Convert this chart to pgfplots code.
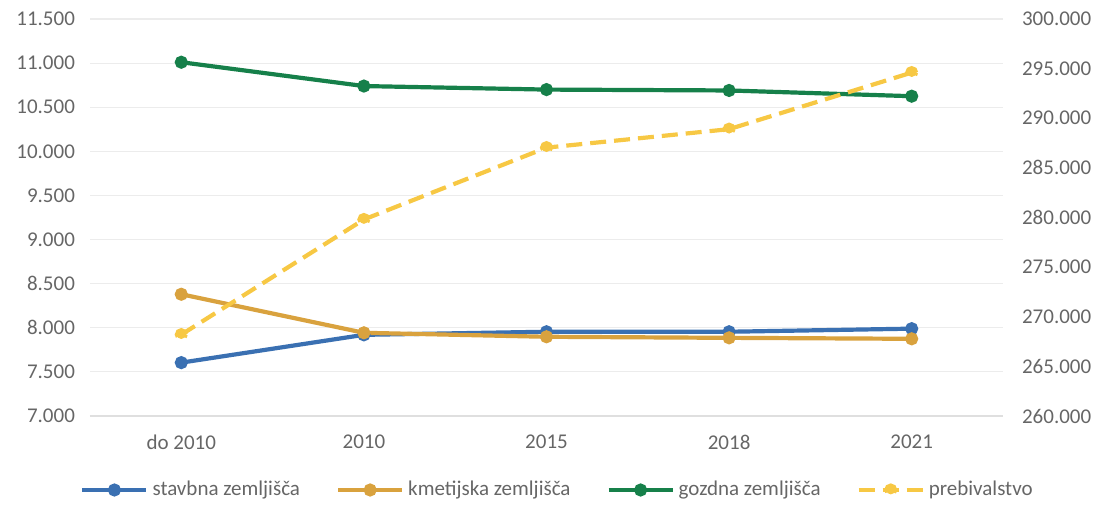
\documentclass[border=0pt]{standalone}
\usepackage{pgfplots}
\pgfplotsset{compat=1.18}
\usepackage{fontspec}
\setmainfont{Carlito}
\definecolor{cblue}{HTML}{3A70B2}
\definecolor{corange}{HTML}{D9A23E}
\definecolor{cgreen}{HTML}{16804A}
\definecolor{cyellow}{HTML}{F7C844}
\definecolor{tickgray}{HTML}{666666}
\begin{document}
\begin{tikzpicture}
\useasboundingbox (-45pt,-44pt) rectangle (507pt,208pt);
\pgfplotsset{
  every axis/.append style={
    at={(0,0)}, anchor=south west, scale only axis,
    width=456.5pt, height=198.5pt,
    xmin=-0.5, xmax=4.5,
    major tick length=0pt,
    scaled y ticks=false,
    /pgf/number format/.cd, fixed, 1000 sep={.}, assume math mode=true,
  },
  lstyle/.style={line width=2.1pt, mark=*, mark size=2.2pt},
}
\begin{axis}[
  axis x line*=bottom, axis y line*=left,
  x axis line style={draw=gray!25, line width=0.8pt},
  y axis line style={draw=none},
  ymin=7000, ymax=11500,
  ytick={7000,7500,...,11500},
  xtick={0,1,2,3,4},
  xticklabels={do 2010,2010,2015,2018,2021},
  ymajorgrids, grid style={draw=gray!15, line width=0.6pt},
  ticklabel style={font=\fontsize{10.5}{12}\selectfont, text=tickgray},
  yticklabel style={xshift=-4pt},
  xticklabel style={yshift=-6pt},
]
\addplot[lstyle, color=cblue] coordinates {(0,7605) (1,7920) (2,7955) (3,7955) (4,7990)};
\addplot[lstyle, color=corange] coordinates {(0,8380) (1,7943) (2,7898) (3,7886) (4,7875)};
\addplot[lstyle, color=cgreen] coordinates {(0,11010) (1,10740) (2,10700) (3,10690) (4,10625)};
\end{axis}
\begin{axis}[
  axis x line=none, axis y line*=right,
  y axis line style={draw=none},
  ymin=260000, ymax=300000,
  ytick={260000,265000,...,300000},
  xtick=\empty,
  ticklabel style={font=\fontsize{10.5}{12}\selectfont, text=tickgray},
  yticklabel style={xshift=6pt},
  legend columns=4,
  legend style={at={(0.5,0)}, anchor=center, yshift=-37pt, xshift=6pt,
    draw=none, fill=none, font=\fontsize{10.5}{12}\selectfont, text=tickgray,
    /tikz/every even column/.append style={column sep=16pt}},
  legend image code/.code={\draw[mark repeat=2,mark phase=2,#1] plot coordinates {(0pt,0pt) (16pt,0pt) (32pt,0pt)};},
]
\addlegendimage{lstyle, color=cblue}
\addlegendentry{stavbna zemljišča}
\addlegendimage{lstyle, color=corange}
\addlegendentry{kmetijska zemljišča}
\addlegendimage{lstyle, color=cgreen}
\addlegendentry{gozdna zemljišča}
\addplot[lstyle, color=cyellow, dash pattern=on 8pt off 4pt] coordinates {(0,268200) (1,279800) (2,287040) (3,288900) (4,294600)};
\addlegendentry{prebivalstvo}
\end{axis}
\end{tikzpicture}
\end{document}
